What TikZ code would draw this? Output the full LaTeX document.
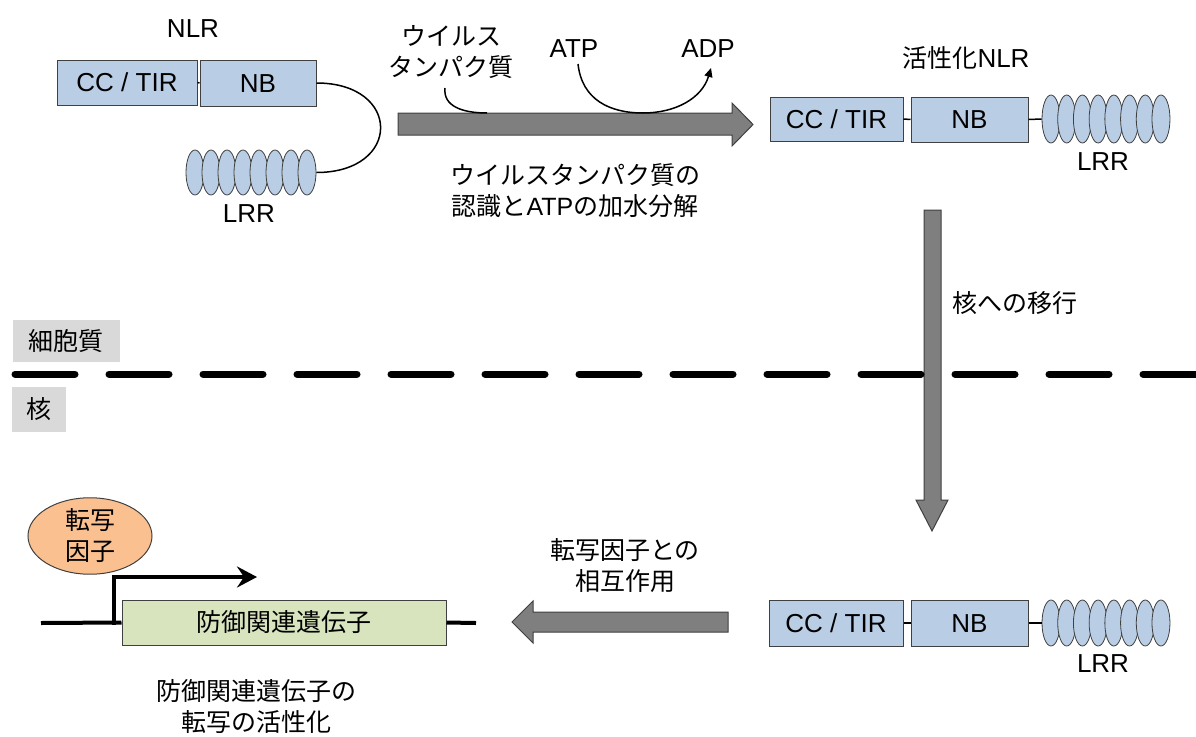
\documentclass[tikz,border=0pt]{standalone}
\usepackage{fontspec}
\setmainfont{Liberation Sans}
\newfontfamily\jp{Noto Sans CJK JP}
\usetikzlibrary{shapes.geometric,arrows.meta}
\definecolor{boxblue}{HTML}{B9CDE5}
\definecolor{genegreen}{HTML}{D7E4BD}
\definecolor{tforange}{HTML}{FAC090}
\definecolor{labelgray}{HTML}{D9D9D9}
\definecolor{arrowgray}{HTML}{7F7F7F}
\definecolor{edgegray}{HTML}{404040}
\begin{document}
\begin{tikzpicture}[x=1pt,y=-1pt,
  font=\fontsize{26}{31}\selectfont,
  dom/.style={draw=edgegray, fill=boxblue, line width=1pt, inner sep=0pt, text height=18.6pt, text depth=0pt},
  lrrell/.style={ellipse, draw=edgegray, fill=boxblue, line width=0.8pt, minimum width=18, inner sep=0pt},
  lbl/.style={inner sep=0pt, text height=18.6pt, text depth=0pt},
  jlbl/.style={inner sep=0pt, align=center, font=\fontsize{25}{31}\selectfont\jp},
  link/.style={draw=black, line width=1.5pt},
  blockarrow/.style={fill=arrowgray, draw=edgegray, line width=1pt, line join=miter},
  tag/.style={fill=labelgray, inner sep=0pt, font=\fontsize{25}{31}\selectfont\jp},
  dashline/.style={line width=7pt, line cap=round, dash pattern=on 60pt off 34pt}
]
\useasboundingbox (0,0) rectangle (1196,736);

% ---------- inactive NLR (top left) ----------
\node[lbl] (nlrlbl) at (193,28) {NLR};
\node[dom, minimum width=140, minimum height=45] (cc1) at (127,82.5) {CC / TIR};
\node[dom, minimum width=116, minimum height=46] (nb1) at (258,83) {NB};
\foreach \i in {1,...,8}
  \node[lrrell, minimum height=45] (la\i) at ({195+16*(\i-1)},172.5) {};
\node[lbl] (lrr1lbl) at (249,213) {LRR};
\draw[link] (cc1.east) -- (nb1.west);
\draw[link] (nb1.east) .. controls (402,83) and (402,172.5) .. (la8.east);

% ---------- top arrow ----------
\draw[blockarrow] (398,113) -- (732,113) -- (732,103) -- (753,124.5) -- (732,146) -- (732,135) -- (398,135) -- cycle;
\node[jlbl] (virus) at (451,52) {ウイルス\\タンパク質};
\coordinate (vs) at (445,88);
\coordinate (ve) at (487,113);
\draw[link] (vs) .. controls (443,106) and (462,113) .. (ve);
\node[lbl] (atp) at (574,48) {ATP};
\node[lbl] (adp) at (708,48) {ADP};
\coordinate (atps) at (578,64);
\coordinate (atpm) at (643,113);
\coordinate (adpe) at (711,68);
\draw[link, -{Triangle[length=9pt,width=8pt]}] (atps) .. controls (582,100) and (610,113) .. (atpm) .. controls (676,113) and (702,98) .. (adpe);
\node[jlbl] (step1) at (575,191) {ウイルスタンパク質の\\{\jp 認識と}{\fontspec{Liberation Sans}ATP}{\jp の加水分解}};

% ---------- activated NLR (top right) ----------
\node[inner sep=0pt] (actlbl) at (966,58) {{\jp\fontsize{25}{31}\selectfont 活性化}NLR};
\node[dom, minimum width=133, minimum height=44] (cc2) at (836.5,119) {CC / TIR};
\node[dom, minimum width=117, minimum height=45] (nb2) at (969.5,119.5) {NB};
\foreach \i in {1,...,8}
  \node[lrrell, minimum height=48] (lb\i) at ({1051+15.71*(\i-1)},119) {};
\node[lbl] (lrr2lbl) at (1103,161) {LRR};
\draw[link] (cc2.east) -- (nb2.west);
\draw[link] (nb2.east) -- (lb1.west);

% ---------- vertical arrow ----------
\draw[blockarrow] (924,210) -- (941,210) -- (941,500) -- (948,500) -- (932,531) -- (916,500) -- (924,500) -- cycle;
\node[jlbl] (move) at (1015,303) {核への移行};

% ---------- membrane ----------
\draw[dashline] (15,374) -- (1196,374);
\node[tag, minimum width=107, minimum height=42] (cyto) at (66,341) {細胞質};
\node[tag, minimum width=54, minimum height=45] (nuc) at (39,409.5) {核};

% ---------- NLR in nucleus (bottom right) ----------
\node[dom, minimum width=134, minimum height=46] (cc3) at (836,623) {CC / TIR};
\node[dom, minimum width=117, minimum height=46] (nb3) at (969.5,623) {NB};
\foreach \i in {1,...,8}
  \node[lrrell, minimum height=46] (lc\i) at ({1051+15.71*(\i-1)},623) {};
\node[lbl] (lrr3lbl) at (1103,663) {LRR};
\draw[link] (cc3.east) -- (nb3.west);
\draw[link] (nb3.east) -- (lc1.west);

% ---------- left arrow ----------
\draw[blockarrow] (728,612) -- (533,612) -- (533,601) -- (512,622) -- (533,643) -- (533,632) -- (728,632) -- cycle;
\node[jlbl] (interact) at (625,566) {転写因子との\\相互作用};

% ---------- gene ----------
\coordinate (gl) at (41,623);
\coordinate (gr) at (476,623);
\node[draw=edgegray, fill=genegreen, line width=1pt, minimum width=324, minimum height=45, inner sep=0pt, font=\fontsize{25}{31}\selectfont\jp] (gene) at (284,622.5) {防御関連遺伝子};
\draw[line width=4pt] (gl) -- (gene.west);
\draw[line width=4pt] (gene.east) -- (gr);
\coordinate (tss) at (114,625);
\coordinate (tssend) at (257,577);
\draw[line width=4pt, -{Stealth[length=20pt,width=21pt,inset=7pt]}] (tss) |- (tssend);
\node[ellipse, draw=edgegray, fill=tforange, line width=1pt, minimum width=124, minimum height=66, inner sep=0pt, align=center, font=\fontsize{25}{31}\selectfont\jp] (tf) at (90,536) {転写\\因子};
\node[jlbl] (result) at (256,707) {防御関連遺伝子の\\転写の活性化};
\end{tikzpicture}
\end{document}
